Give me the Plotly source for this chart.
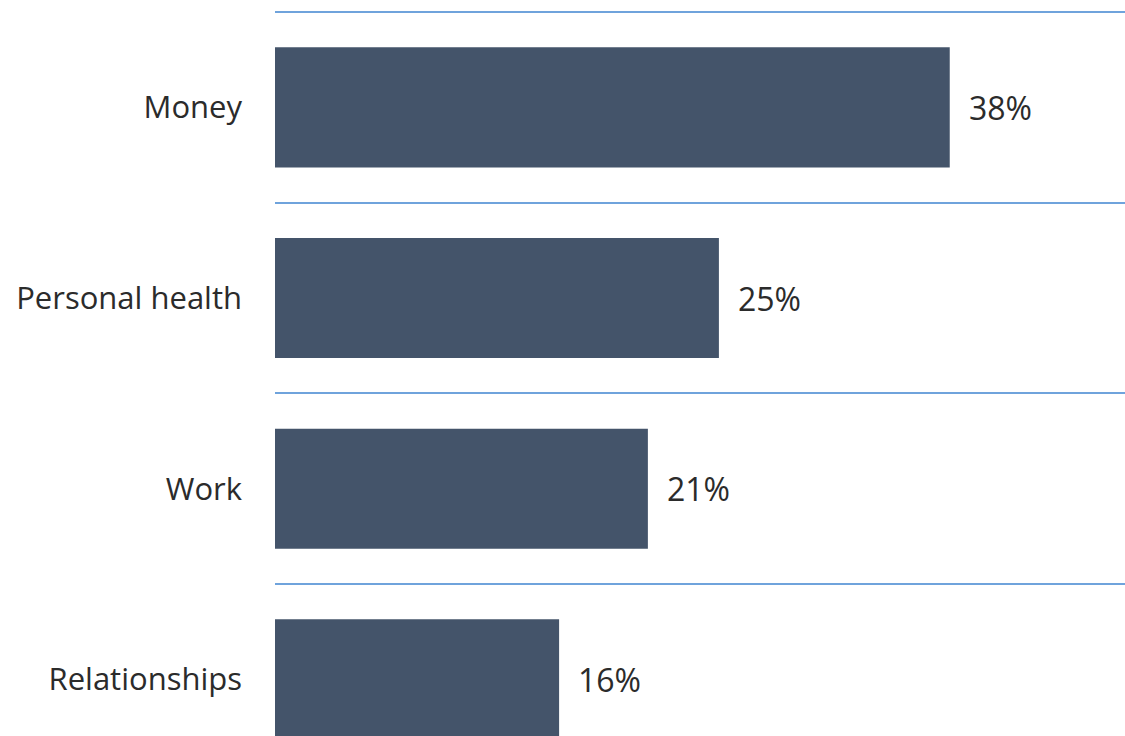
import plotly.graph_objects as go

categories = ["Money", "Personal health", "Work", "Relationships"]
values = [38, 25, 21, 16]
labels = ["38%", "25%", "21%", "16%"]

bar_color = "#44546A"
grid_color = "#6FA3DC"
text_color = "#2B2B2B"
font_family = "Open Sans"

fig = go.Figure()
fig.add_trace(go.Bar(
    x=values,
    y=categories,
    orientation="h",
    marker=dict(color=bar_color, line=dict(width=0)),
    width=0.63,
    hoverinfo="skip",
))

for cat, v, lab in zip(categories, values, labels):
    fig.add_annotation(
        x=v, y=cat, text=lab, showarrow=False,
        xanchor="left", yanchor="middle", xshift=17,
        font=dict(family=font_family, size=32, color=text_color),
    )

fig.update_layout(
    width=1125, height=736,
    margin=dict(l=275, r=0, t=0, b=0),
    paper_bgcolor="white", plot_bgcolor="white",
    showlegend=False,
    font=dict(family=font_family, size=31, color=text_color),
    bargap=0.37,
)
fig.update_xaxes(
    range=[0, 47.87], showgrid=False, zeroline=False,
    showticklabels=False, showline=False, fixedrange=True,
)
fig.update_yaxes(
    type="category",
    categoryorder="array", categoryarray=categories,
    range=[3.297, -0.563],
    tickson="boundaries",
    showgrid=True, gridcolor=grid_color, gridwidth=2,
    ticks="", showline=False, zeroline=False,
    ticklabelstandoff=32,
    tickfont=dict(family=font_family, size=31, color=text_color),
)

fig.write_html("out.html")
